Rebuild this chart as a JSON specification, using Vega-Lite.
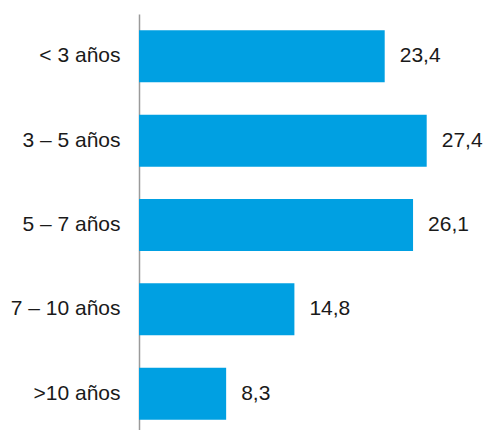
{
  "$schema": "https://vega.github.io/schema/vega-lite/v6.json",
  "autosize": {"type": "none"},
  "padding": {"left": 139, "top": 14, "right": 32, "bottom": 0},
  "width": 315,
  "height": 422,
  "background": "white",
  "config": {"view": {"stroke": null}, "font": "Liberation Sans"},
  "data": {"values": [
    {"cat": "< 3 años", "v": 23.4, "lab": "23,4"},
    {"cat": "3 – 5 años", "v": 27.4, "lab": "27,4"},
    {"cat": "5 – 7 años", "v": 26.1, "lab": "26,1"},
    {"cat": "7 – 10 años", "v": 14.8, "lab": "14,8"},
    {"cat": ">10 años", "v": 8.3, "lab": "8,3"}
  ]},
  "encoding": {
    "y": {"field": "cat", "type": "nominal", "sort": null,
      "scale": {"paddingInner": 0.383, "paddingOuter": 0.193},
      "axis": {"title": null, "ticks": false, "labelFontSize": 21, "labelColor": "#1a1a1a", "labelPadding": 19, "domainColor": "#9a9a9a", "domainWidth": 1.5, "labelFont": "Liberation Sans"}},
    "x": {"field": "v", "type": "quantitative", "scale": {"domain": [0, 30]}, "axis": null}
  },
  "layer": [
    {"mark": {"type": "bar", "color": "#00A0E2"}},
    {"mark": {"type": "text", "align": "left", "baseline": "middle", "dx": 15, "fontSize": 21, "color": "#1a1a1a", "font": "Liberation Sans"},
     "encoding": {"text": {"field": "lab"}}}
  ]
}
